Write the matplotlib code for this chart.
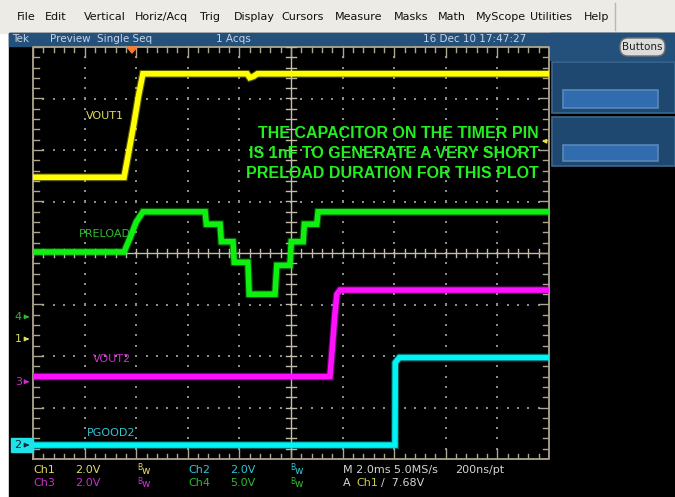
import numpy as np
import matplotlib.pyplot as plt
from matplotlib.patches import Rectangle, FancyBboxPatch, Polygon

W, H = 675, 497
NARROW = ['Liberation Sans Narrow', 'DejaVu Sans']

# graticule box in pixels
GX0, GX1, GY0, GY1 = 33, 549, 47, 459
PX_MS = (GX1 - GX0) / 20.0      # 10 div x 2 ms
PX_DIV = (GY1 - GY0) / 8.0
YC = (GY0 + GY1) / 2.0

# channel setup: ground marker (div from centre), volts/div
ch_gnd = {1: -1.67, 2: -3.73, 3: -2.50, 4: -1.24}
ch_vdiv = {1: 2.0, 2: 2.0, 3: 2.0, 4: 5.0}
ch_col = {1: '#ffff00', 2: '#00f4f4', 3: '#ff10ff', 4: '#10f010'}
ch_dim = {1: '#e0dc60', 2: '#30c4d4', 3: '#c830c8', 4: '#30b830'}
trig_level = 7.68

# traces, time in ms across the screen, volts
vout1_t = [0, 3.53, 3.70, 3.90, 4.10, 4.26, 8.30, 8.40, 8.55, 8.70, 20]
vout1_v = [6.28, 6.28, 7.2, 8.3, 9.5, 10.3, 10.3, 10.15, 10.2, 10.3, 10.3]

preload_t = [0, 3.53, 3.75, 4.00, 4.26, 6.67, 6.72, 7.25, 7.30, 7.75, 7.80,
             8.33, 8.38, 9.38, 9.45, 9.96, 10.01, 10.47, 10.52, 11.00, 11.05, 20]
preload_v = [6.3, 6.3, 7.6, 9.2, 10.2, 10.2, 9.0, 9.0, 7.3, 7.3, 5.3,
             5.3, 2.2, 2.2, 5.0, 5.0, 7.3, 7.3, 9.0, 9.0, 10.2, 10.2]

vout2_t = [0, 11.51, 11.60, 11.70, 11.78, 11.90, 20]
vout2_v = [0.2, 0.2, 1.3, 2.6, 3.4, 3.56, 3.56]

pgood2_t = [0, 14.03, 14.04, 14.20, 20]
pgood2_v = [0.0, 0.0, 3.2, 3.4, 3.4]

labels = [('VOUT1', 86, 116, 1), ('PRELOAD', 79, 234, 4),
          ('VOUT2', 93, 359, 3), ('PGOOD2', 87, 433, 2)]
note = ['THE CAPACITOR ON THE TIMER PIN',
        'IS 1nF TO GENERATE A VERY SHORT',
        'PRELOAD DURATION FOR THIS PLOT']

menu = ['File', 'Edit', 'Vertical', 'Horiz/Acq', 'Trig', 'Display', 'Cursors',
        'Measure', 'Masks', 'Math', 'MyScope', 'Utilities', 'Help']
menu_x = [17, 45, 84, 135, 200, 234, 281, 335, 394, 438, 476, 530, 584]


def div_of(ch, v):
    return ch_gnd[ch] + np.asarray(v) / ch_vdiv[ch]


def ypix(div):
    return YC - div * PX_DIV


fig = plt.figure(figsize=(W / 100, H / 100), dpi=100)
fig.patch.set_facecolor('white')

bg = fig.add_axes([0, 0, 1, 1], zorder=0)
bg.set_xlim(0, W)
bg.set_ylim(H, 0)
bg.axis('off')

# window chrome
bg.add_patch(Rectangle((0, 0), W, 33, color='#ecebe6'))
bg.add_patch(Rectangle((9, 33), W - 9, H - 33, color='black'))
bg.add_patch(Rectangle((9, 33), W - 9, 13, color='#24507c'))
bg.add_patch(Rectangle((GX1 + 1, 33), W - GX1, 27, color='#24507c'))
for y0, y1 in [(62, 113), (117, 166)]:
    bg.add_patch(Rectangle((552, y0), W - 552, y1 - y0, facecolor='#1f4870',
                           edgecolor='#3c6890', lw=1.2))
    bg.add_patch(Rectangle((563, y0 + 28), 95, y1 - y0 - 33, facecolor='#306cae',
                           edgecolor='#5a88b8', lw=1.2))
bg.add_patch(FancyBboxPatch((620, 38), 45, 18, boxstyle='round,pad=0,rounding_size=8',
                            facecolor='#dcdcdc', edgecolor='#707070', lw=1))
bg.text(642.5, 47, 'Buttons', family=NARROW, fontsize=7.5, color='#202020',
        ha='center', va='center')
bg.plot([615, 615], [3, 30], color='#b8b8b0', lw=1)

for m, x in zip(menu, menu_x):
    bg.text(x, 17, m, family=NARROW, fontsize=8, color='#101010', va='center')

bar_col = '#c8d4e4'
for s, x in [('Tek', 12), ('Preview', 50), ('Single Seq', 97), ('1 Acqs', 216),
             ('16 Dec 10 17:47:27', 423)]:
    bg.text(x, 39.5, s, family=NARROW, fontsize=7.5, color=bar_col, va='center')

# screen axes
scr = fig.add_axes([GX0 / W, 1 - GY1 / H, (GX1 - GX0) / W, (GY1 - GY0) / H], zorder=1)
scr.set_xlim(0, 20)
scr.set_ylim(-4, 4)
scr.axis('off')
scr.patch.set_alpha(0)

gc = '#aca690'
scr.plot([0, 20, 20, 0, 0], [-4, -4, 4, 4, -4], color=gc, lw=1.3, clip_on=False)
scr.plot([10, 10], [-4, 4], color='#c4bca8', lw=1.0)
scr.plot([0, 20], [0, 0], color='#c4bca8', lw=1.0)

tx = 1.0 / PX_MS
ty = 1.0 / PX_DIV
xs = np.arange(0, 20.01, 0.4)
ys = np.arange(-4, 4.01, 0.2)
for i, x in enumerate(xs):
    L = 10 if i % 5 == 0 else 5
    scr.plot([x, x], [4, 4 - L * ty], color=gc, lw=1.0)
    scr.plot([x, x], [-4, -4 + L * ty], color=gc, lw=1.0)
    scr.plot([x, x], [-4 * ty, 4 * ty], color='#c4bca8', lw=1.0)
for i, y in enumerate(ys):
    L = 10 if i % 5 == 0 else 6
    scr.plot([0, L * tx], [y, y], color=gc, lw=1.0)
    scr.plot([20, 20 - L * tx], [y, y], color=gc, lw=1.0)
    scr.plot([10 - 5 * tx, 10 + 5 * tx], [y, y], color='#c4bca8', lw=1.0)

dot_x, dot_y = [], []
for gx in range(2, 20, 2):
    if gx != 10:
        dot_x += [gx] * (len(ys) - 2)
        dot_y += list(ys[1:-1])
for gy in range(-3, 4):
    if gy != 0:
        dot_x += list(xs[1:-1])
        dot_y += [gy] * (len(xs) - 2)
scr.scatter(dot_x, dot_y, s=1.2, color='#8c8c8c', marker='s', lw=0)

traces = [(2, pgood2_t, pgood2_v), (3, vout2_t, vout2_v),
          (4, preload_t, preload_v), (1, vout1_t, vout1_v)]
for ch, t, v in traces:
    d = div_of(ch, v)
    scr.plot(t, d, color=ch_col[ch], lw=5.6, alpha=0.35, solid_capstyle='butt',
             solid_joinstyle='miter')
    scr.plot(t, d, color=ch_col[ch], lw=4.0, solid_capstyle='butt',
             solid_joinstyle='miter')

# overlay: labels, markers, readouts
top = fig.add_axes([0, 0, 1, 1], zorder=2)
top.set_xlim(0, W)
top.set_ylim(H, 0)
top.axis('off')
top.patch.set_alpha(0)

for s, x, y, ch in labels:
    top.text(x, y, s, family=NARROW, fontsize=8, color=ch_dim[ch], va='center')

for i, s in enumerate(note):
    top.text(539, 133 + 20 * i, s, family='Liberation Sans', weight='bold',
             fontsize=11.5, color='#22ee22', ha='right', va='center')

# ground markers
for ch in [4, 1, 3]:
    y = ypix(ch_gnd[ch])
    top.text(22, y, str(ch), family=NARROW, fontsize=8, color=ch_dim[ch],
             ha='right', va='center')
    top.annotate('', xy=(32, y), xytext=(24, y),
                 arrowprops=dict(arrowstyle='-|>', color=ch_dim[ch], lw=1,
                                 mutation_scale=6))
y2 = ypix(ch_gnd[2])
top.add_patch(Rectangle((11, y2 - 7), 22, 14, color='#20e0e8'))
top.text(21, y2, '2', family=NARROW, fontsize=8, color='#0a2a3a', ha='right', va='center')
top.annotate('', xy=(32, y2), xytext=(24, y2),
             arrowprops=dict(arrowstyle='-|>', color='#0a2a3a', lw=1, mutation_scale=6))

# trigger position and level
top.add_patch(Polygon([(127, 47), (137, 47), (132, 53)], color='#ff7a28'))
yt = ypix(div_of(1, trig_level))
top.annotate('', xy=(539, yt), xytext=(548, yt),
             arrowprops=dict(arrowstyle='-|>', color='#e8e040', lw=1, mutation_scale=6))

# readout
fs = 8
r1, r2 = 470, 483
top.text(33, r1, 'Ch1', family=NARROW, fontsize=fs, color=ch_dim[1], va='center')
top.text(75, r1, '2.0V', family=NARROW, fontsize=fs, color=ch_dim[1], va='center')
top.text(33, r2, 'Ch3', family=NARROW, fontsize=fs, color=ch_dim[3], va='center')
top.text(75, r2, '2.0V', family=NARROW, fontsize=fs, color=ch_dim[3], va='center')
top.text(188, r1, 'Ch2', family=NARROW, fontsize=fs, color=ch_dim[2], va='center')
top.text(230, r1, '2.0V', family=NARROW, fontsize=fs, color=ch_dim[2], va='center')
top.text(188, r2, 'Ch4', family=NARROW, fontsize=fs, color=ch_dim[4], va='center')
top.text(230, r2, '5.0V', family=NARROW, fontsize=fs, color=ch_dim[4], va='center')
for x, y, ch in [(137, r1, 1), (137, r2, 3), (290, r1, 2), (290, r2, 4)]:
    top.text(x, y - 2, 'B', family=NARROW, fontsize=5.5, color=ch_dim[ch], va='center')
    top.text(x + 4.5, y + 1, 'w', family=NARROW, fontsize=7.5, color=ch_dim[ch], va='center')
top.text(343, r1, 'M 2.0ms 5.0MS/s', family=NARROW, fontsize=fs, color='#d4d4d4', va='center')
top.text(455, r1, '200ns/pt', family=NARROW, fontsize=fs, color='#d4d4d4', va='center')
top.text(343, r2, 'A', family=NARROW, fontsize=fs, color='#d4d4d4', va='center')
top.text(356, r2, 'Ch1', family=NARROW, fontsize=fs, color='#d0c850', va='center')
top.text(381, r2, '/  7.68V', family=NARROW, fontsize=fs, color='#d4d4d4', va='center')

fig.savefig('out.png', dpi=100)
